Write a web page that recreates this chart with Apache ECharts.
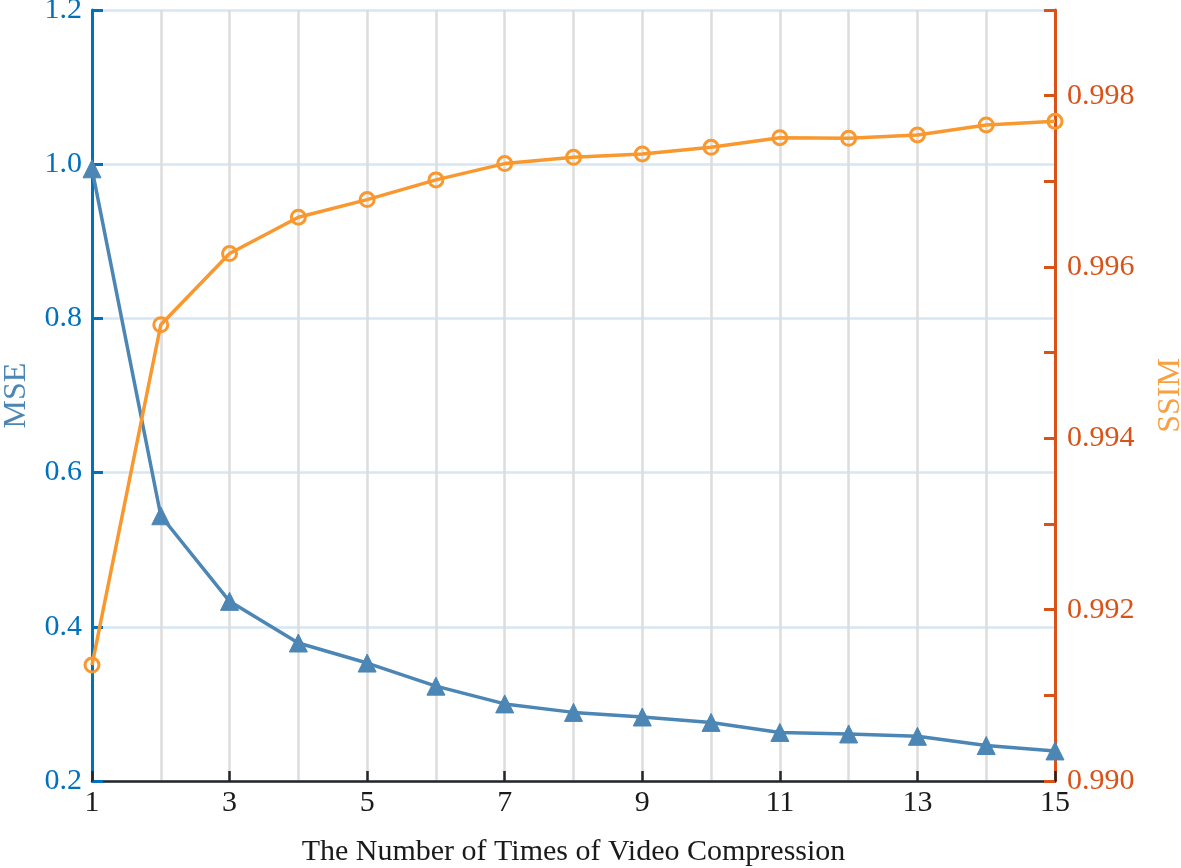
<!DOCTYPE html>
<html>
<head>
<meta charset="utf-8">
<script src="https://cdn.jsdelivr.net/npm/echarts@6/dist/echarts.min.js"></script>
<style>html,body{margin:0;padding:0;background:#fff}#c{width:1181px;height:868px}</style>
</head>
<body>
<div id="c"></div>
<script>
const compressions = [1,2,3,4,5,6,7,8,9,10,11,12,13,14,15];
const mseValues = [0.994,0.544,0.433,0.379,0.353,0.323,0.300,0.289,0.283,0.276,0.263,0.261,0.258,0.246,0.239];
const ssimValues = [0.991353,0.995326,0.996157,0.996581,0.996787,0.997017,0.997207,0.997280,0.997320,0.997397,0.997510,0.997502,0.997542,0.997658,0.997700];
const xTitle = 'The Number of Times of Video Compression';
const leftTitle = 'MSE';
const rightTitle = 'SSIM';

const FONT = '"Liberation Serif", "Times New Roman", serif';
const chart = echarts.init(document.getElementById('c'), null, {renderer: 'canvas'});
chart.setOption({
  animation: false,
  backgroundColor: '#fff',
  grid: {left: 92, right: 126, top: 10, bottom: 87, containLabel: false, outerBoundsMode: 'none'},
  xAxis: {
    type: 'value', min: 1, max: 15, interval: 2,
    name: xTitle, nameLocation: 'middle', nameGap: 56,
    nameTextStyle: {fontFamily: FONT, fontSize: 30, color: '#1a1a1a'},
    axisLine: {show: true, onZero: false, lineStyle: {color: '#262626', width: 2.5}},
    axisTick: {show: true, inside: true, length: 10, lineStyle: {color: '#262626', width: 2.5}},
    minorTick: {show: false, splitNumber: 2},
    axisLabel: {fontFamily: FONT, fontSize: 30, color: '#1a1a1a', margin: 7},
    splitLine: {show: true, lineStyle: {color: '#DDDDDD', width: 2.5}},
    minorSplitLine: {show: true, lineStyle: {color: '#DDDDDD', width: 2.5}}
  },
  yAxis: [
    {
      type: 'value', min: 0.2, max: 1.2, interval: 0.2, position: 'left',
      name: leftTitle, nameLocation: 'middle', nameGap: 59, nameRotate: 90,
      nameTextStyle: {fontFamily: FONT, fontSize: 32, color: '#4C86B5'},
      axisLine: {show: true, lineStyle: {color: '#0072BD', width: 3}},
      axisTick: {show: true, inside: true, length: 11, lineStyle: {color: '#0072BD', width: 3}},
      axisLabel: {fontFamily: FONT, fontSize: 30, color: '#0072BD', margin: 10,
        formatter: v => v.toFixed(1)},
      splitLine: {show: true, lineStyle: {color: '#D6E6F3', width: 2.5}}
    },
    {
      type: 'value', min: 0.990, max: 0.999, interval: 0.001, position: 'right',
      name: rightTitle, nameLocation: 'middle', nameGap: 100, nameRotate: 90,
      nameTextStyle: {fontFamily: FONT, fontSize: 32, color: '#F9A040'},
      axisLine: {show: true, lineStyle: {color: '#D95319', width: 3}},
      axisTick: {show: true, inside: true, length: 11, lineStyle: {color: '#D95319', width: 3}},
      axisLabel: {fontFamily: FONT, fontSize: 30, color: '#D95319', margin: 12,
        formatter: v => (Math.round(v * 1000) % 2 === 0 && Math.round(v*1000) < 999) ? v.toFixed(3) : ''},
      splitLine: {show: false}
    }
  ],
  series: [
    {
      type: 'line', yAxisIndex: 0,
      data: compressions.map((x, i) => [x, mseValues[i]]),
      symbol: 'triangle', symbolSize: 18,
      lineStyle: {color: '#4C86B5', width: 3.5},
      itemStyle: {color: '#4C86B5', borderColor: '#4C86B5', borderWidth: 1},
      z: 3
    },
    {
      type: 'line', yAxisIndex: 1,
      data: compressions.map((x, i) => [x, ssimValues[i]]),
      symbol: 'circle', symbolSize: 14,
      lineStyle: {color: '#F9982F', width: 3.5},
      itemStyle: {color: 'rgba(0,0,0,0)', borderColor: '#F9982F', borderWidth: 3},
      z: 4
    }
  ]
});
</script>
</body>
</html>
